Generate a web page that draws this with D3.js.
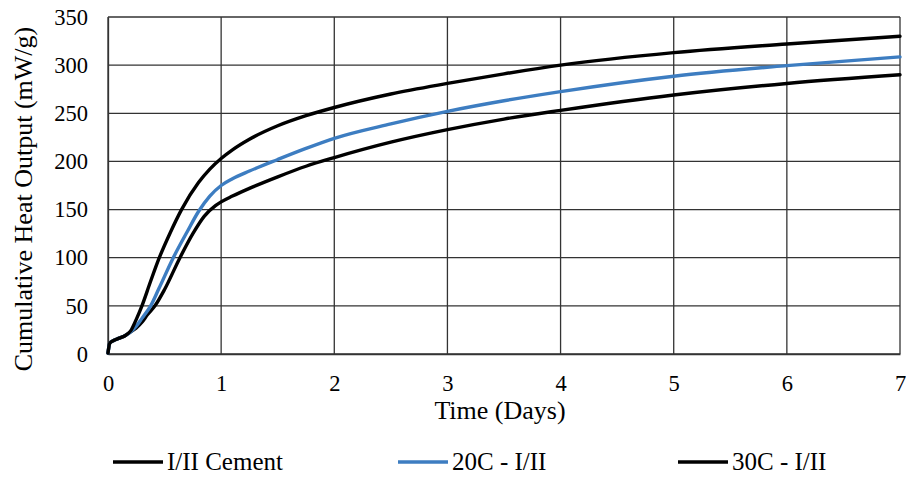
<!DOCTYPE html>
<html>
<head>
<meta charset="utf-8">
<script src="https://cdn.jsdelivr.net/npm/d3@7"></script>
<style>
  html, body { margin: 0; padding: 0; background: #fff; }
  svg { display: block; }
  text { font-family: "Liberation Serif", "Times New Roman", serif; fill: #000; }
</style>
</head>
<body>
<svg id="chart" width="906" height="477"></svg>
<script>
// ---- data ----
const seriesNames = ["I/II Cement", "20C - I/II", "30C - I/II"];
const seriesColors = ["#000000", "#3d7dc1", "#000000"];

const daysCement = [0, 0.015, 0.05, 0.1, 0.15, 0.2, 0.25, 0.3, 0.35, 0.415, 0.5, 0.636, 0.75, 0.85, 0.95, 1.0, 1.1, 1.25, 1.5, 1.75, 2, 2.5, 3, 3.5, 4, 5, 6, 7];
const heatCement = [1, 11, 14, 16.5, 19, 23, 27, 33, 41, 50, 67, 100, 125, 143, 154, 158, 164, 172, 184, 195, 204, 220, 233, 244, 253, 269, 281, 290];

const days20C = [0, 0.015, 0.05, 0.1, 0.15, 0.2, 0.25, 0.3, 0.377, 0.45, 0.577, 0.7, 0.8, 0.9, 1.0, 1.1, 1.25, 1.5, 1.75, 2, 2.5, 3, 3.5, 4, 5, 6, 7];
const heat20C = [1, 11, 14, 16.5, 19, 23, 29, 37, 50, 68, 100, 127, 148, 164, 175, 182, 190, 202, 213.5, 224, 239, 252, 263, 272.5, 288.5, 299.5, 308.6];

const days30C = [0, 0.015, 0.05, 0.1, 0.15, 0.2, 0.25, 0.3, 0.375, 0.45, 0.55, 0.65, 0.8, 0.9, 1.0, 1.1, 1.25, 1.5, 1.75, 2, 2.5, 3, 3.5, 4, 5, 6, 7];
const heat30C = [1, 11, 14, 16.5, 19, 24, 36, 50, 75, 99, 126, 150, 178, 192, 203, 212, 223, 237, 247.5, 256, 270, 281, 291, 300, 313, 322, 330];

const xTicks = [0, 1, 2, 3, 4, 5, 6, 7];
const yTicks = [0, 50, 100, 150, 200, 250, 300, 350];
const xTitle = "Time (Days)";
const yTitle = "Cumulative Heat Output (mW/g)";

// ---- layout ----
const svg = d3.select("#chart");
const plot = { left: 108, right: 900, top: 17, bottom: 354 };

const x = d3.scaleLinear().domain([0, 7]).range([plot.left, plot.right]);
const y = d3.scaleLinear().domain([0, 350]).range([plot.bottom, plot.top]);

const gridColor = "#333333";

// horizontal gridlines
svg.append("g").selectAll("line").data(yTicks).join("line")
  .attr("x1", plot.left).attr("x2", plot.right)
  .attr("y1", d => y(d)).attr("y2", d => y(d))
  .attr("stroke", gridColor).attr("stroke-width", 1.3);

// vertical gridlines
svg.append("g").selectAll("line").data(xTicks).join("line")
  .attr("x1", d => x(d)).attr("x2", d => x(d))
  .attr("y1", plot.top).attr("y2", plot.bottom)
  .attr("stroke", gridColor).attr("stroke-width", 1.3);

// axes via d3 (labels only, no tick marks)
const xAxis = d3.axisBottom(x).tickValues(xTicks).tickSize(0).tickPadding(21).tickFormat(d3.format("d"));
const gx = svg.append("g").attr("transform", `translate(0,${plot.bottom})`).call(xAxis);
gx.select(".domain").attr("stroke", gridColor).attr("stroke-width", 1.3);
gx.selectAll("text").style("font-family", '"Liberation Serif", serif').style("font-size", "22.5px").attr("fill", "#000");

const yAxis = d3.axisLeft(y).tickValues(yTicks).tickSize(0).tickPadding(20).tickFormat(d3.format("d"));
const gy = svg.append("g").attr("transform", `translate(${plot.left},0)`).call(yAxis);
gy.select(".domain").attr("stroke", gridColor).attr("stroke-width", 1.3);
gy.selectAll("text").style("font-family", '"Liberation Serif", serif').style("font-size", "22.5px").attr("fill", "#000");

// series
const series = [
  { name: seriesNames[0], color: seriesColors[0], xs: daysCement, ys: heatCement },
  { name: seriesNames[1], color: seriesColors[1], xs: days20C, ys: heat20C },
  { name: seriesNames[2], color: seriesColors[2], xs: days30C, ys: heat30C }
];

const line = d3.line().x(d => x(d[0])).y(d => y(d[1])).curve(d3.curveMonotoneX);

svg.append("g").selectAll("path").data(series).join("path")
  .attr("d", s => line(s.xs.map((v, i) => [v, s.ys[i]])))
  .attr("fill", "none")
  .attr("stroke", s => s.color)
  .attr("stroke-width", 3.4)
  .attr("stroke-linejoin", "round")
  .attr("stroke-linecap", "round");

// axis titles
svg.append("text")
  .attr("x", 500).attr("y", 419)
  .attr("text-anchor", "middle")
  .style("font-size", "26px")
  .text(xTitle);

svg.append("text")
  .attr("transform", `translate(32,${199}) rotate(-90)`)
  .attr("text-anchor", "middle")
  .style("font-size", "26px")
  .text(yTitle);

// legend
const legendX = [113, 398, 678];
const lg = svg.append("g").selectAll("g").data(series).join("g")
  .attr("transform", (s, i) => `translate(${legendX[i]},462)`);
lg.append("line").attr("x1", 0).attr("x2", 50).attr("y1", 0).attr("y2", 0)
  .attr("stroke", s => s.color).attr("stroke-width", 3.4);
lg.append("text").attr("x", 54).attr("y", 8)
  .style("font-size", "25px")
  .text(s => s.name);
</script>
</body>
</html>
